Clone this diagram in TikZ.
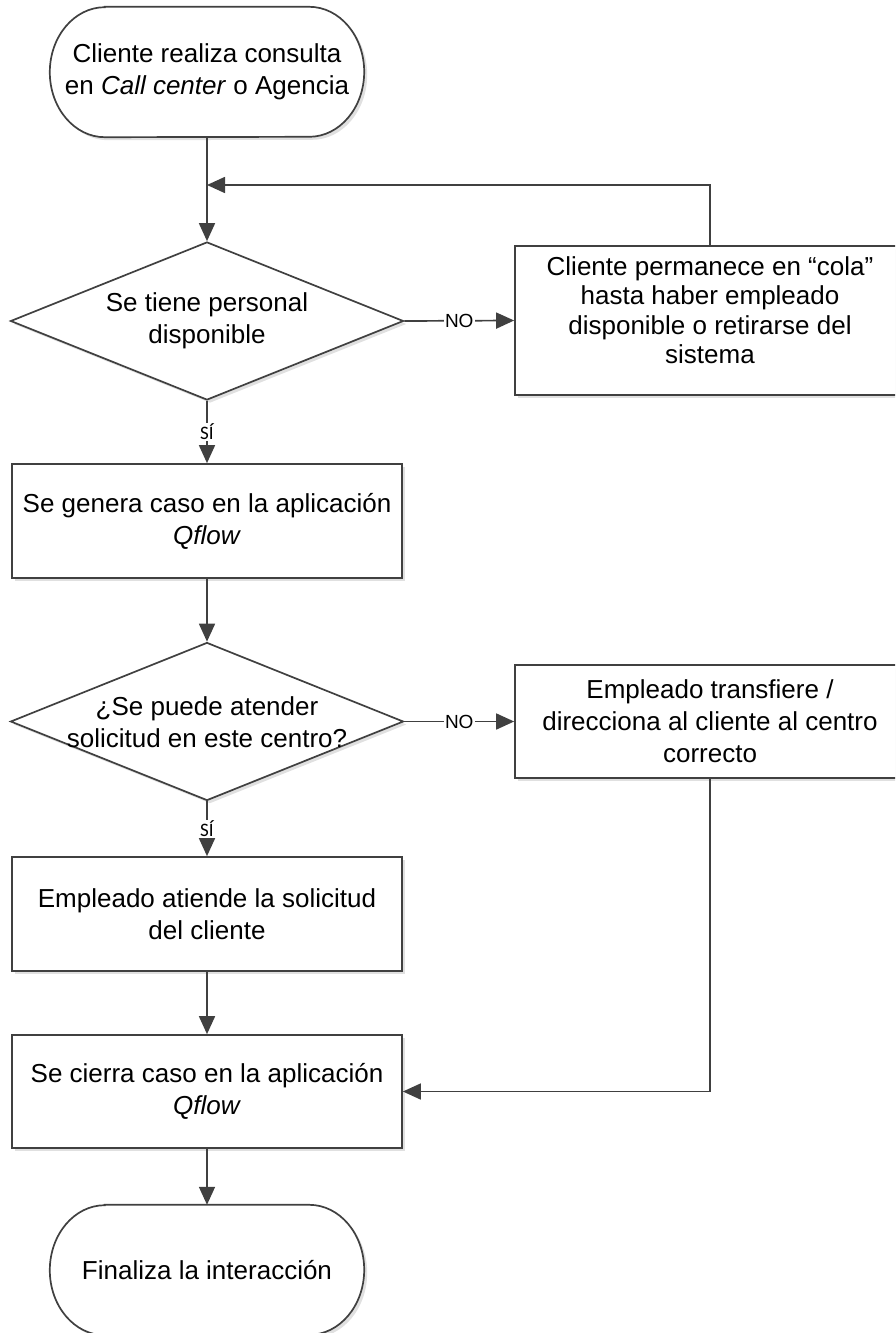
\documentclass[tikz,border=0pt]{standalone}
\usepackage{fontspec}
\setmainfont{Liberation Sans}
\newfontfamily\calib{Carlito}
\usetikzlibrary{shapes.geometric,arrows.meta,shadows}
\definecolor{ln}{HTML}{404040}
\pgfdeclarelayer{bg}
\pgfsetlayers{bg,main}
\tikzset{
  shd/.style={drop shadow={shadow xshift=3pt,shadow yshift=-3pt,opacity=0.12,fill=black}},
  procbox/.style={line width=1.7pt, draw=ln, shd, fill=white, rectangle,
    minimum width=390pt, minimum height=114pt, inner sep=0pt, align=center,
    font=\fontsize{26}{32}\selectfont},
  decbox/.style={line width=1.7pt, draw=ln, shd, fill=white, diamond,
    minimum width=393pt, minimum height=158pt, inner sep=0pt},
  txt/.style={align=center, inner sep=0pt, font=\fontsize{26}{32}\selectfont},
  termbox/.style={minimum width=314pt, minimum height=130pt, inner sep=0pt,
    align=center, font=\fontsize{26}{32}\selectfont},
  termline/.style={line width=1.7pt, draw=ln, fill=white, shd},
  flow/.style={line width=1.7pt, draw=ln, -{Triangle[length=18pt,width=16pt]}},
  nolab/.style={fill=white, inner sep=1pt, font=\fontsize{19}{21}\selectfont},
  silab/.style={fill=white, inner sep=1pt, font=\calib\fontsize{19}{21}\selectfont},
}
\begin{document}
\begin{tikzpicture}[x=1pt,y=1pt]
\path[use as bounding box] (0,0) rectangle (895,-1333);
\clip (0,0) rectangle (895,-1333);

% terminals
\node[termbox] (start) at (207,-72) {Cliente realiza consulta\\en \textit{Call center} o Agencia};
\node[termbox] (fin) at (207,-1270) {Finaliza la interacción};
\begin{pgfonlayer}{bg}
\draw[termline] ([xshift=55pt]start.north west) -- ([xshift=-55pt]start.north east)
  arc[start angle=90,end angle=-90,x radius=55pt,y radius=65pt]
  -- ([xshift=55pt]start.south west)
  arc[start angle=270,end angle=90,x radius=55pt,y radius=65pt] -- cycle;
\draw[termline] ([xshift=55pt]fin.north west) -- ([xshift=-55pt]fin.north east)
  arc[start angle=90,end angle=-90,x radius=55pt,y radius=65pt]
  -- ([xshift=55pt]fin.south west)
  arc[start angle=270,end angle=90,x radius=55pt,y radius=65pt] -- cycle;
\end{pgfonlayer}

% decisions
\node[decbox] (d1) at (207,-321) {};
\node[txt] (d1t) at (207,-321) {Se tiene personal\\disponible};
\node[decbox] (d2) at (207,-721.5) {};
\node[txt] (d2t) at (207,-722) {¿Se puede atender\\solicitud en este centro?};

% processes
\node[procbox, minimum height=149pt] (p1) at (710,-320.5) {};
\node[txt, font=\fontsize{26}{29.5}\selectfont] (p1t) at (710,-310) {Cliente permanece en “cola”\\hasta haber empleado\\disponible o retirarse del\\sistema};
\node[procbox] (p2) at (207,-521) {Se genera caso en la aplicación\\\textit{Qflow}};
\node[procbox, minimum height=113pt] (p3) at (710,-721.5) {Empleado transfiere /\\direcciona al cliente al centro\\correcto};
\node[procbox] (p4) at (207,-914) {Empleado atiende la solicitud\\del cliente};
\node[procbox, minimum height=113pt] (p5) at (207,-1091.5) {Se cierra caso en la aplicación\\\textit{Qflow}};

\coordinate (j1) at (207,-185);

% connectors
\draw[flow] (start.south) -- (d1.north);
\draw[flow] (p1.north) |- (j1);
\draw[flow] (d1.east) -- node[nolab]{NO} (p1.west);
\draw[flow] (d1.south) -- node[silab]{SÍ} (p2.north);
\draw[flow] (p2.south) -- (d2.north);
\draw[flow] (d2.east) -- node[nolab]{NO} (p3.west);
\draw[flow] (d2.south) -- node[silab]{SÍ} (p4.north);
\draw[flow] (p4.south) -- (p5.north);
\draw[flow] (p3.south) |- (p5.east);
\draw[flow] (p5.south) -- (fin.north);
\end{tikzpicture}
\end{document}
